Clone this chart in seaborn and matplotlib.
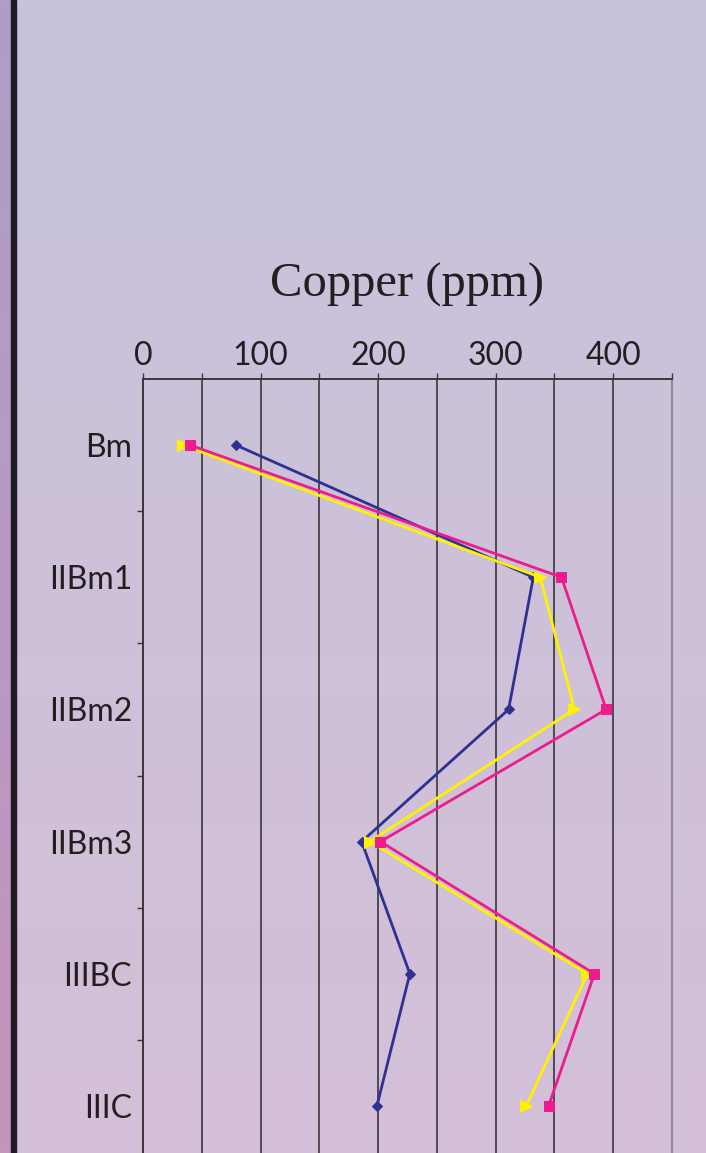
import numpy as np
import pandas as pd
import matplotlib
matplotlib.use("Agg")
import matplotlib.pyplot as plt
from matplotlib.colors import LinearSegmentedColormap
import seaborn as sns

# Soil horizons (top to bottom) and copper concentrations (ppm) for three profiles
horizons = ["Bm", "IIBm1", "IIBm2", "IIBm3", "IIIBC", "IIIC"]
profile_1 = [79, 332, 311, 186, 227, 199]
profile_2 = [34, 338, 367, 193, 378, 326]
profile_3 = [40, 356, 394, 202, 384, 345]
series_names = ["Profile 1", "Profile 2", "Profile 3"]
x_ticks = [0, 100, 200, 300, 400]

colors = ["#2E3192", "#FFF200", "#EC1C8C"]
markers = ["D", ">", "s"]
msizes = [5.5, 8, 7]

rows = []
for name, vals in zip(series_names, [profile_1, profile_2, profile_3]):
    for i, v in enumerate(vals):
        rows.append({"series": name, "depth": i, "copper": v})
df = pd.DataFrame(rows)

sns.set_style("white")
plt.rcParams["font.family"] = ["Lato", "DejaVu Sans"]

W, H = 706, 1153
fig = plt.figure(figsize=(W / 100, H / 100), dpi=100)

# Background gradient panel
bg = fig.add_axes([0, 0, 1, 1], zorder=-10)
bg.set_axis_off()
grad = LinearSegmentedColormap.from_list("bg", ["#C6C4DB", "#D4BFD8"])
bg.imshow(np.linspace(0, 1, 256).reshape(-1, 1), aspect="auto", cmap=grad,
          extent=[0, 1, 0, 1], origin="upper")
strip = LinearSegmentedColormap.from_list("strip", ["#AE9FC6", "#C495BD"])
bg.imshow(np.linspace(0, 1, 256).reshape(-1, 1), aspect="auto", cmap=strip,
          extent=[0, 11 / W, 0, 1], origin="upper")
bg.axvspan(11 / W, 16 / W, color="#1E1C22")
bg.set_xlim(0, 1)
bg.set_ylim(0, 1)

ax = fig.add_axes([143 / W, 0, 529 / W, 774 / H])
ax.patch.set_alpha(0)

for name, c, m, ms in zip(series_names, colors, markers, msizes):
    sub = df[df["series"] == name]
    sns.lineplot(data=sub, x="copper", y="depth", sort=False, orient="y",
                 estimator=None, color=c, marker=m, markersize=ms,
                 markeredgecolor=c, linewidth=2.0, ax=ax, legend=False,
                 zorder=3)

ax.set_xlim(0, 450)
ax.set_ylim(5.356, -0.5)

# Vertical grid every 50 ppm
for gx in range(50, 450, 50):
    ax.axvline(gx, color="#3A3638", lw=1.2, zorder=1)

ax.xaxis.tick_top()
ax.set_xticks(x_ticks)
ax.set_xticks(np.arange(0, 451, 50), minor=True)
ax.set_xticklabels([str(t) for t in x_ticks], fontsize=23, color="#231F20")
ax.tick_params(axis="x", which="both", top=True, bottom=False, direction="out",
               length=4, width=1, color="#3A3638", pad=2)

ax.set_yticks(range(len(horizons)))
ax.set_yticklabels(horizons, fontsize=23, color="#231F20")
ax.set_yticks(np.arange(0.5, 5.5, 1), minor=True)
ax.tick_params(axis="y", which="major", length=0, pad=8)
ax.tick_params(axis="y", which="minor", left=True, length=4, width=1,
               color="#3A3638", direction="out")

ax.set_xlabel("")
ax.set_ylabel("")
for s in ["top", "left"]:
    ax.spines[s].set_visible(True)
    ax.spines[s].set_color("#3A3638")
    ax.spines[s].set_linewidth(1.4)
ax.spines["right"].set_visible(True)
ax.spines["right"].set_color("#8C8C90")
ax.spines["right"].set_linewidth(1.6)
ax.spines["bottom"].set_visible(False)

fig.text(407 / W, 1 - 285 / H, "Copper (ppm)", ha="center", va="center",
         fontsize=35, family=["Liberation Serif", "DejaVu Serif"],
         color="#231F20")

fig.savefig("out.png", dpi=100)
